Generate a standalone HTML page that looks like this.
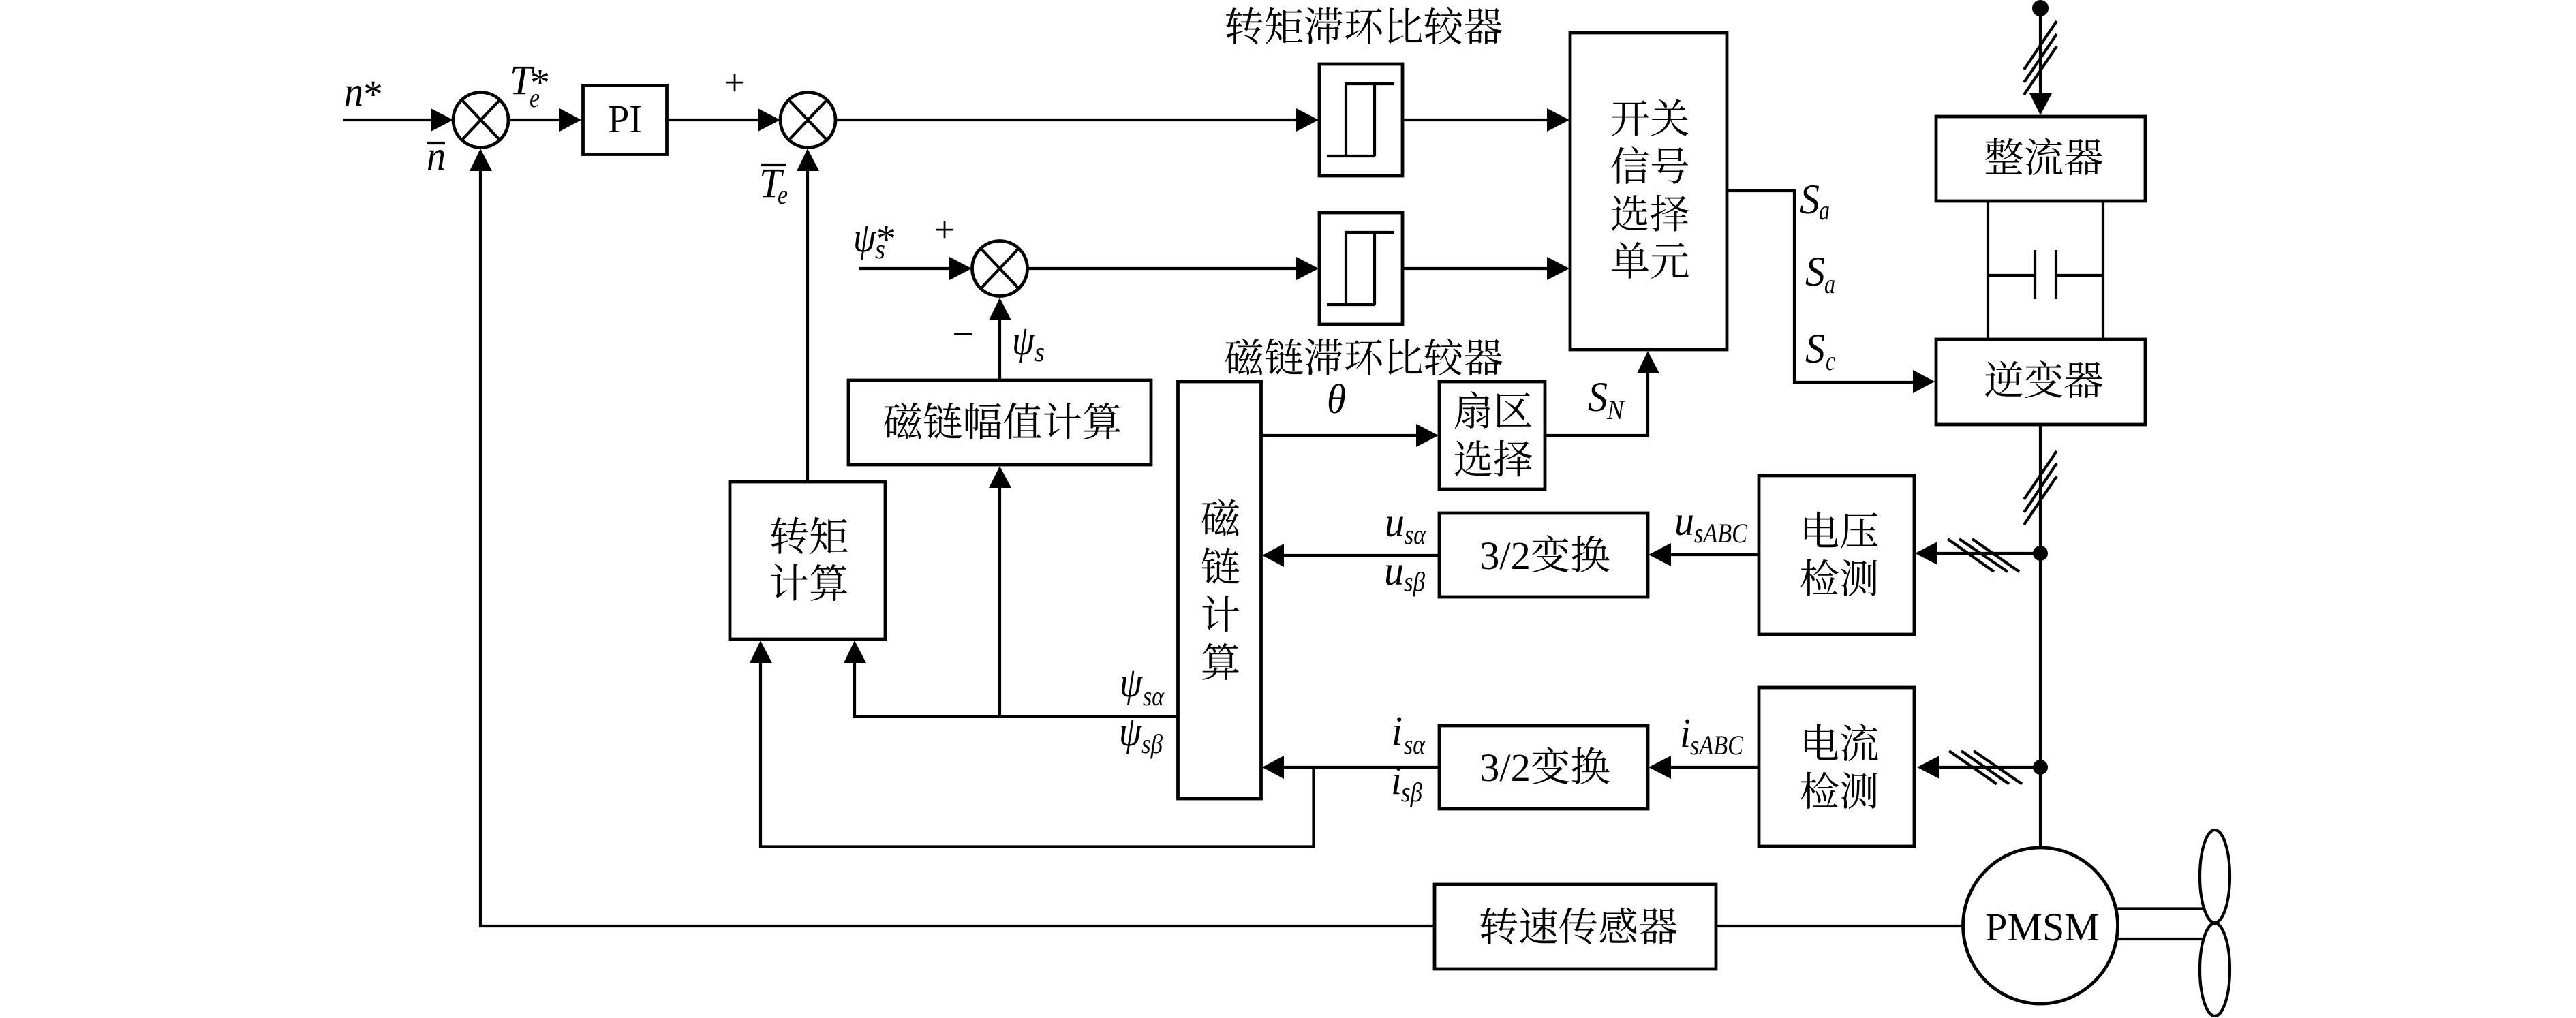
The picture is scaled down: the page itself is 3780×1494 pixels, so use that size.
<!DOCTYPE html>
<html lang="zh-CN"><head><meta charset="utf-8"><title>PMSM DTC</title>
<style>
html,body{margin:0;padding:0;background:#fff;width:3780px;height:1494px;overflow:hidden}
svg{display:block}
text{font-family:"Liberation Serif","Noto Serif CJK SC",serif;fill:#000}
.c{font-size:58.500px;text-anchor:middle}
.m{font-size:61px;font-style:italic}
.s{font-size:40px;font-style:italic}
.a{font-size:58px}
.p{font-size:58px;text-anchor:middle}
.q{font-size:56px;text-anchor:middle}
.n{fill:none;stroke:#000;stroke-width:4.800}
.l{fill:none;stroke:#000;stroke-width:4.200}
.h{fill:none;stroke:#000;stroke-width:4.200}
.t{fill:#000;stroke:none}
</style></head><body>
<svg xmlns="http://www.w3.org/2000/svg" width="3780" height="1494" viewBox="0 0 3780 1494">
<rect width="3780" height="1494" fill="#fff"/>

<!-- boxes -->
<g class="n">
<rect x="855.500" y="125.500" width="123" height="101"/>
<rect x="1936" y="94" width="122" height="164"/>
<rect x="1936" y="312" width="122" height="164"/>
<rect x="2304" y="48" width="230" height="465"/>
<rect x="1245" y="558" width="444" height="124"/>
<rect x="1071" y="707" width="228" height="231"/>
<rect x="1728.500" y="560" width="122" height="612"/>
<rect x="2112" y="560" width="155" height="158"/>
<rect x="2112" y="753" width="306" height="123"/>
<rect x="2112" y="1065" width="306" height="122"/>
<rect x="2581" y="698" width="228" height="233"/>
<rect x="2581" y="1009" width="228" height="233"/>
<rect x="2105" y="1298" width="413" height="124"/>
<rect x="2841" y="171" width="307" height="124"/>
<rect x="2841" y="498" width="307" height="125"/>
</g>

<!-- sum junctions -->
<g class="n">
<circle cx="705.500" cy="176" r="40.500"/>
<circle cx="1185.500" cy="176" r="40.500"/>
<circle cx="1467" cy="394" r="40.500"/>
</g>
<g class="l">
<path d="M678 147L733 205M733 147L678 205"/>
<path d="M1158 147L1213 205M1213 147L1158 205"/>
<path d="M1439.500 365L1494.500 423M1494.500 365L1439.500 423"/>
</g>

<!-- hysteresis glyphs -->
<g class="l">
<path d="M2046 123H1975V229M2017 123V229M1947 229H2018"/>
<path d="M2046 341H1975V447M2017 341V447M1947 447H2018"/>
</g>

<!-- connectors -->
<g class="l">
<path d="M504 176H640"/>
<path d="M746 176H825"/>
<path d="M980 176H1115"/>
<path d="M1226 176H1905"/>
<path d="M1260 394H1400"/>
<path d="M1508 394H1905"/>
<path d="M2059 176H2275"/>
<path d="M2059 394H2275"/>
<path d="M705 245V1359H2104"/>
<path d="M1185 245V706"/>
<path d="M1467 466V558"/>
<path d="M1467 712V1051"/>
<path d="M1728 1051.500H1254V970"/>
<path d="M1851 639H2085"/>
<path d="M2268 639H2418V545"/>
<path d="M2535 280H2633V561H2810"/>
<path d="M2111 815H1880"/>
<path d="M2111 1126H1880"/>
<path d="M1927.500 1126V1242.500H1116V970"/>
<path d="M2580 814H2450"/>
<path d="M2580 1126H2450"/>
<path d="M2994 812H2840"/>
<path d="M2994 1126H2843"/>
<path d="M2994 12V140"/>
<path d="M2917 295V498M3086 295V498"/>
<path d="M2917 404H2986M3017 404H3086"/>
<path d="M2986 367V439M3017 367V439"/>
<path d="M2994 625V1242"/>
<path d="M2519 1359H2879"/>
<path d="M3105 1333.500H3232M3105 1378H3232"/>
</g>

<!-- hatches -->
<g class="h">
<path d="M3018 31L2970 102M3018 50L2970 121M3018 68L2970 139"/>
<path d="M3018 662L2970 733M3018 680L2970 752M3018 699L2970 770"/>
<path d="M2858 791L2926 839M2875 791L2946 839M2894 791L2963 839"/>
<path d="M2860 1102L2930 1150.500M2878 1102L2948 1150.500M2896 1102L2967 1150.500"/>
</g>

<!-- dots -->
<circle class="t" cx="2994" cy="12" r="12"/>
<circle class="t" cx="2994" cy="812" r="11"/>
<circle class="t" cx="2994" cy="1126" r="11"/>

<!-- arrowheads -->
<g class="t">
<polygon points="665,176 632,159 632,193"/>
<polygon points="853,176 821,159 821,193"/>
<polygon points="1145,176 1112,159 1112,193"/>
<polygon points="1426,394 1393,377 1393,411"/>
<polygon points="1935,176 1902,159 1902,193"/>
<polygon points="1935,394 1902,377 1902,411"/>
<polygon points="2303,176 2270,159 2270,193"/>
<polygon points="2303,394 2270,377 2270,411"/>
<polygon points="705,218 689,251 722,251"/>
<polygon points="1185,218 1169,251 1202,251"/>
<polygon points="1467,437 1451,470 1484,470"/>
<polygon points="1467,684 1451,716 1484,716"/>
<polygon points="1116,940 1100,973 1133,973"/>
<polygon points="1254,940 1238,973 1271,973"/>
<polygon points="2418,515 2402,548 2435,548"/>
<polygon points="2111,639 2078,622 2078,656"/>
<polygon points="1852,815 1884,798 1884,832"/>
<polygon points="1852,1126 1884,1109 1884,1143"/>
<polygon points="2419,814 2452,797 2452,831"/>
<polygon points="2419,1126 2452,1109 2452,1143"/>
<polygon points="2810,812 2843,795 2843,829"/>
<polygon points="2813,1126 2846,1109 2846,1143"/>
<polygon points="2994,169 2978,137 3011,137"/>
<polygon points="2839,560 2807,543 2807,577"/>
</g>

<!-- motor and fan -->
<ellipse cx="2994" cy="1358.500" rx="113.500" ry="114.500" fill="#fff" stroke="#000" stroke-width="4.800"/>
<g class="l">
<ellipse cx="3250" cy="1286" rx="22" ry="68"/>
<ellipse cx="3250" cy="1423" rx="22" ry="68"/>
</g>

<!-- CJK labels -->
<text class="c" x="2001" y="60">转矩滞环比较器</text>
<text class="c" x="2001" y="546">磁链滞环比较器</text>
<text class="c" x="2421" y="195">开关</text>
<text class="c" x="2421" y="265">信号</text>
<text class="c" x="2421" y="335">选择</text>
<text class="c" x="2421" y="404">单元</text>
<text class="c" x="1471" y="640">磁链幅值计算</text>
<text class="c" x="1187" y="808">转矩</text>
<text class="c" x="1187" y="877">计算</text>
<text class="c" x="1791" y="782">磁</text>
<text class="c" x="1791" y="853">链</text>
<text class="c" x="1791" y="923">计</text>
<text class="c" x="1791" y="993">算</text>
<text class="c" x="2191" y="624">扇区</text>
<text class="c" x="2191" y="695">选择</text>
<text class="c" x="2267" y="835">3/2变换</text>
<text class="c" x="2267" y="1146">3/2变换</text>
<text class="c" x="2699" y="800">电压</text>
<text class="c" x="2699" y="870">检测</text>
<text class="c" x="2699" y="1112">电流</text>
<text class="c" x="2699" y="1182">检测</text>
<text class="c" x="2316" y="1381">转速传感器</text>
<text class="c" x="2999" y="252">整流器</text>
<text class="c" x="2999" y="579">逆变器</text>

<!-- roman labels -->
<text class="p" x="917" y="194" textLength="50" lengthAdjust="spacingAndGlyphs">PI</text>
<text class="p" x="2997" y="1380">PMSM</text>
<text class="q" x="1078" y="140">+</text>
<text class="q" x="1386" y="356">+</text>
<text class="q" x="1413" y="509">−</text>

<!-- math labels -->
<text class="m" x="505" y="155" textLength="28" lengthAdjust="spacingAndGlyphs">n</text><text class="a" x="533" y="158">*</text>
<text class="m" x="748" y="138" textLength="33" lengthAdjust="spacingAndGlyphs">T</text><text class="a" x="778" y="141">*</text><text class="s" x="777" y="157" textLength="15" lengthAdjust="spacingAndGlyphs">e</text>
<text class="m" x="626" y="249" textLength="28" lengthAdjust="spacingAndGlyphs">n</text><path d="M626 210H653" class="l"/>
<text class="m" x="1114" y="289" textLength="33" lengthAdjust="spacingAndGlyphs">T</text><path d="M1116 242H1154" class="l"/><text class="s" x="1141" y="299" textLength="15" lengthAdjust="spacingAndGlyphs">e</text>
<text class="m" x="1252" y="369" textLength="33" lengthAdjust="spacingAndGlyphs">ψ</text><text class="a" x="1286" y="370">*</text><text class="s" x="1284" y="379" textLength="15" lengthAdjust="spacingAndGlyphs">s</text>
<text class="m" x="1485" y="520" textLength="33" lengthAdjust="spacingAndGlyphs">ψ</text><text class="s" x="1518" y="530" textLength="15" lengthAdjust="spacingAndGlyphs">s</text>
<text class="m" x="1947" y="606" textLength="28" lengthAdjust="spacingAndGlyphs">θ</text>
<text class="m" x="2330" y="603" textLength="29" lengthAdjust="spacingAndGlyphs">S</text><text class="s" x="2358" y="615" textLength="25" lengthAdjust="spacingAndGlyphs">N</text>
<text class="m" x="2641" y="313" textLength="29" lengthAdjust="spacingAndGlyphs">S</text><text class="s" x="2669" y="322" textLength="16" lengthAdjust="spacingAndGlyphs">a</text>
<text class="m" x="2649" y="419" textLength="29" lengthAdjust="spacingAndGlyphs">S</text><text class="s" x="2677" y="430" textLength="16" lengthAdjust="spacingAndGlyphs">a</text>
<text class="m" x="2649" y="532" textLength="29" lengthAdjust="spacingAndGlyphs">S</text><text class="s" x="2679" y="543" textLength="14" lengthAdjust="spacingAndGlyphs">c</text>
<text class="m" x="2032" y="787" textLength="29" lengthAdjust="spacingAndGlyphs">u</text><text class="s" x="2061" y="798" textLength="31" lengthAdjust="spacingAndGlyphs">sα</text>
<text class="m" x="2031" y="858" textLength="29" lengthAdjust="spacingAndGlyphs">u</text><text class="s" x="2060" y="867" textLength="31" lengthAdjust="spacingAndGlyphs">sβ</text>
<text class="m" x="2042" y="1093" textLength="16" lengthAdjust="spacingAndGlyphs">i</text><text class="s" x="2060" y="1106" textLength="31" lengthAdjust="spacingAndGlyphs">sα</text>
<text class="m" x="2041" y="1165" textLength="16" lengthAdjust="spacingAndGlyphs">i</text><text class="s" x="2056" y="1176" textLength="31" lengthAdjust="spacingAndGlyphs">sβ</text>
<text class="m" x="1643" y="1022" textLength="33" lengthAdjust="spacingAndGlyphs">ψ</text><text class="s" x="1677" y="1035" textLength="31" lengthAdjust="spacingAndGlyphs">sα</text>
<text class="m" x="1642" y="1094" textLength="33" lengthAdjust="spacingAndGlyphs">ψ</text><text class="s" x="1675" y="1105" textLength="31" lengthAdjust="spacingAndGlyphs">sβ</text>
<text class="m" x="2457" y="785" textLength="29" lengthAdjust="spacingAndGlyphs">u</text><text class="s" x="2486" y="796" textLength="78" lengthAdjust="spacingAndGlyphs">sABC</text>
<text class="m" x="2465" y="1096" textLength="16" lengthAdjust="spacingAndGlyphs">i</text><text class="s" x="2480" y="1107" textLength="78" lengthAdjust="spacingAndGlyphs">sABC</text>
</svg>
</body></html>
